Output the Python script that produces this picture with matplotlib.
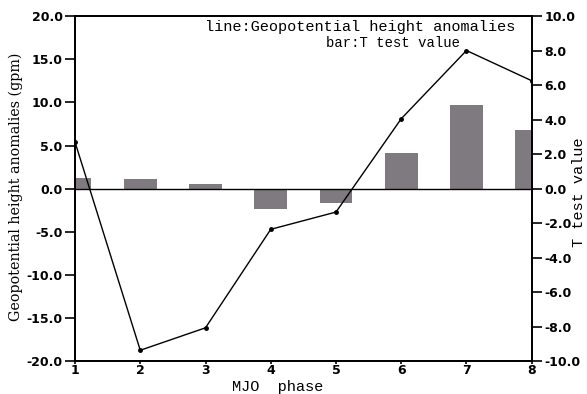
import numpy as np
import matplotlib
matplotlib.use("Agg")
import matplotlib.pyplot as plt

# MJO phases
phase = [1, 2, 3, 4, 5, 6, 7, 8]
# line: geopotential height anomalies (gpm), left axis
gph = [5.4, -18.7, -16.1, -4.7, -2.7, 8.1, 16.0, 12.5]
# bar: T test value, right axis
tval = [0.60, 0.56, 0.29, -1.17, -0.81, 2.07, 4.84, 3.40]

left_ticks = np.arange(-20, 21, 5)
right_ticks = np.arange(-10, 11, 2)

tick_font = dict(family='DejaVu Sans', weight='bold', size=9)
serif = 'DejaVu Serif'
mono = 'Liberation Mono'

fig = plt.figure(figsize=(5.87, 3.94), dpi=100)
ax = fig.add_axes([0.1278, 0.0825, 0.778, 0.877])
ax2 = ax.twinx()

# bars on the right axis
ax2.bar(phase, tval, width=0.5, color='#7f7a7f', zorder=1)
ax2.axhline(0, color='black', lw=1.0, zorder=2)
ax2.set_ylim(-10, 10)
ax2.set_yticks(right_ticks)
ax2.set_yticklabels(['%.1f' % v for v in right_ticks], fontdict=tick_font)

# line on the left axis (drawn on top)
ax.set_zorder(ax2.get_zorder() + 1)
ax.patch.set_visible(False)
ax.plot(phase, gph, color='black', lw=1.0, marker='o', markersize=2.5)
ax.set_ylim(-20, 20)
ax.set_yticks(left_ticks)
ax.set_yticklabels(['%.1f' % v for v in left_ticks], fontdict=tick_font)
ax.set_xlim(1, 8)
ax.set_xticks(phase)
ax.set_xticklabels([str(p) for p in phase], fontdict=tick_font)

ax.tick_params(axis='y', direction='out', length=7, width=1.2, pad=2)
ax.tick_params(axis='x', direction='out', length=2, width=1.2, pad=0)
ax2.tick_params(axis='y', direction='out', length=7, width=1.2, pad=2)
for a in (ax, ax2):
    for s in a.spines.values():
        s.set_linewidth(1.3)

fig.text(16 / 587, 1 - 187 / 394, 'Geopotential height anomalies (gpm)', rotation=90,
         ha='center', va='center', family=serif, fontsize=10.3)
fig.text(232 / 587, 0, 'MJO  phase', ha='left', va='bottom',
         family=mono, fontsize=11)
fig.text(572 / 587, 1 - 192 / 394, 'T test value', rotation=90, ha='left', va='center',
         family=mono, fontsize=11)

ax.text(0.285, 0.968, 'line:Geopotential height anomalies', transform=ax.transAxes,
        family=mono, fontsize=11, ha='left', va='center')
ax.text(0.55, 0.922, 'bar:T test value', transform=ax.transAxes,
        family=mono, fontsize=10, ha='left', va='center')

fig.savefig('out.png', dpi=100)
